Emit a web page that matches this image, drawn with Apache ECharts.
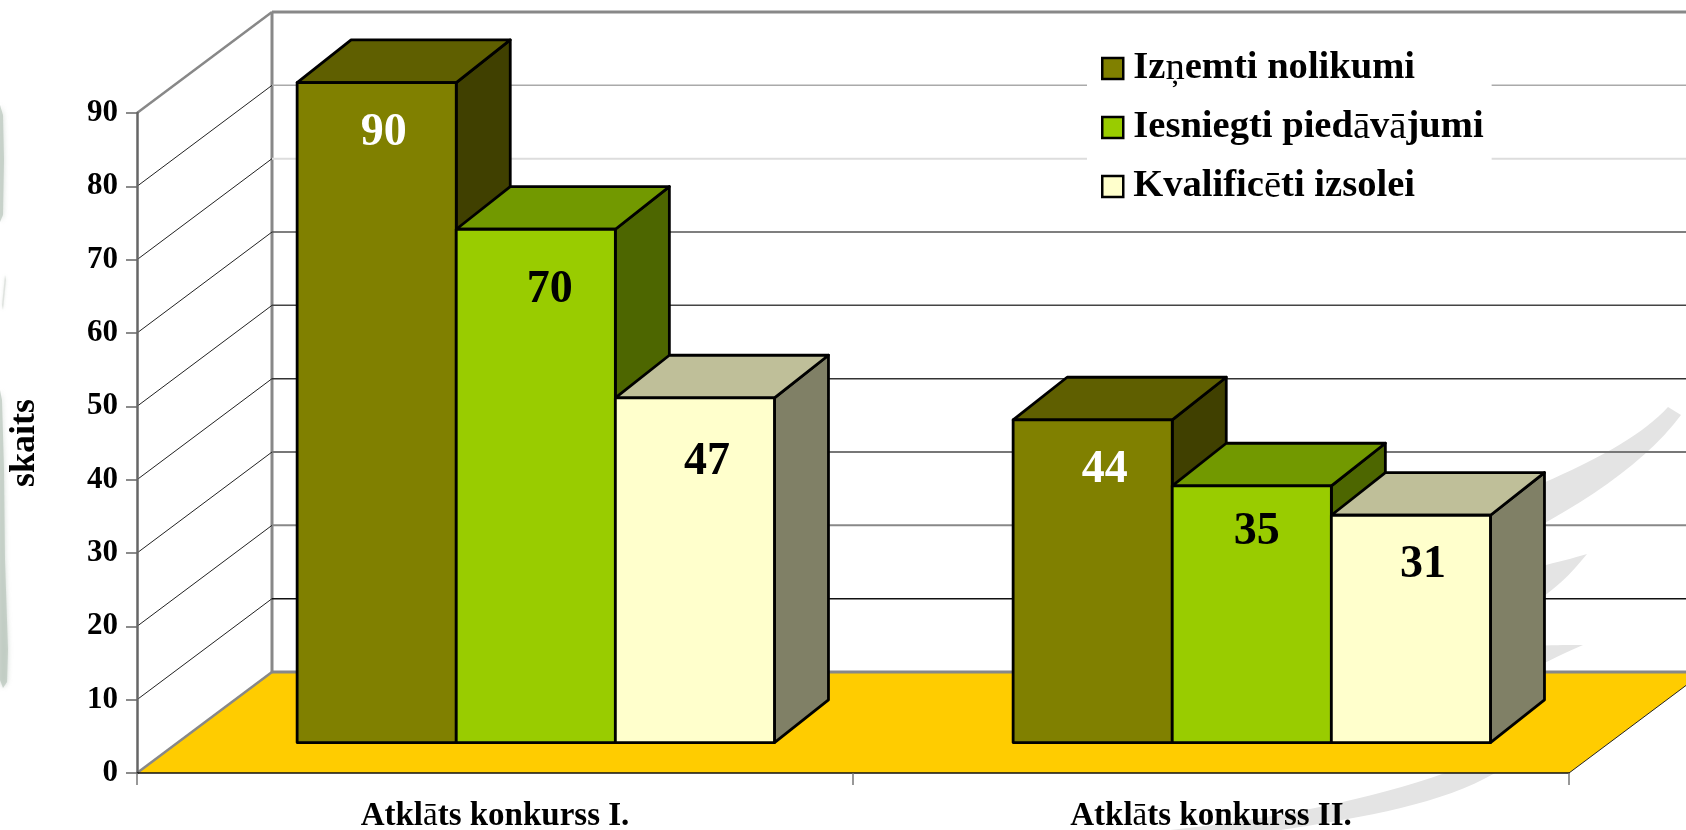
<!DOCTYPE html>
<html>
<head>
<meta charset="utf-8">
<style>html,body{margin:0;padding:0;background:#fff}#c{width:1686px;height:830px}</style>
<script src="https://cdn.jsdelivr.net/npm/echarts@6/dist/echarts.min.js"></script>
</head>
<body>
<div id="c"></div>
<script>
const categories = ['Atklāts konkurss I.', 'Atklāts konkurss II.'];
const seriesNames = ['Izņemti nolikumi', 'Iesniegti piedāvājumi', 'Kvalificēti izsolei'];
const izņemti = [90, 44];
const iesniegti = [70, 35];
const kvalificeti = [47, 31];
const yTicks = [0, 10, 20, 30, 40, 50, 60, 70, 80, 90];

// ---- styling only ----
const FONT = '"Liberation Serif", serif';
const AXIS_SIZE = 31, LABEL_SIZE = 46;
const faces = [
  { front: '#808000', top: '#5F5F00', side: '#404000', text: '#fff' },
  { front: '#99CC00', top: '#729900', side: '#4D6600', text: '#000' },
  { front: '#FFFFCC', top: '#BFBF99', side: '#808066', text: '#000' }
];
const labelNudge = [
  [[7, 51], [12, 50]],
  [[14, 61], [5, 46]],
  [[12, 64], [12, 50]]
];
const WALL = { dx: 135, dy: -101 };
const BAR_SHIFT = { dx: 40.8, dy: -30.4 };
const BAR_DEPTH = { dx: 54, dy: -42.7 };
const wallLine = {
  0: ['#888', 3], 10: ['#111', 1.5], 20: ['#888', 2], 30: ['#777', 2], 40: ['#333', 1.5],
  50: ['#444', 1.5], 60: ['#555', 1.5], 70: ['#ddd', 2], 80: ['#aaa', 1.5], 90: ['#888', 3]
};
const thinChars = /[āēņ]/g;
const rich = size => ({ r: { fontFamily: FONT, fontWeight: 'normal', fontSize: size, color: '#000' } });
const markThin = s => s.replace(thinChars, c => '{r|' + c + '}');

const swoosh = '#E4E4E4';
const blot = '#B9C6BC';
const decorPaths = [
  ['M1668 407 L1681 415 C1640 470 1560 520 1470 560 L1400 540 C1500 500 1620 460 1668 407 Z', swoosh, 0, 1],
  ['M1587 554 C1570 575 1555 590 1530 605 L1480 590 L1490 575 C1520 572 1560 562 1587 554 Z', swoosh, 0, 1],
  ['M1583 645 C1560 655 1540 665 1510 680 L1480 650 C1520 645 1560 645 1583 645 Z', swoosh, 0, 1],
  ['M1445 773 C1370 800 1260 822 1150 832 L1268 832 C1360 818 1440 805 1495 773 Z', swoosh, 0, 1],
  ['M0 105 L3 115 L4 160 L3 215 L0 222 Z', blot, 5, 0.7],
  ['M5 275 L6 280 L3 310 L2 305 Z', '#D5DCD6', 3, 0.7],
  ['M0 390 L2 400 L4 470 L5 560 L8 650 L7 682 L3 688 L0 680 Z', blot, 5, 0.7]
];

function renderDecor() {
  return {
    type: 'group',
    children: decorPaths.map(([pathData, fill, blur, opacity]) => ({
      type: 'path',
      shape: { pathData },
      style: { fill, shadowBlur: blur, shadowColor: fill, opacity }
    }))
  };
}

function renderWall(params, api) {
  const v = api.value(0);
  const band = api.size([1, 0])[0];
  const c = api.coord([0, v]);
  const p = [c[0] - band / 2, c[1]];
  const xEnd = p[0] + 2000;
  const [color, width] = wallLine[v];
  const backY = p[1] + WALL.dy, backX = p[0] + WALL.dx;
  const isEdge = v === 0 || v === 90;
  const span = band * categories.length;
  const children = [];
  if (v === 0) {
    children.push({
      type: 'polygon',
      shape: { points: [[p[0], p[1]], [p[0] + span, p[1]], [p[0] + span + WALL.dx, backY], [backX, backY]] },
      style: { fill: '#FFCC00' }
    });
    children.push({
      type: 'line',
      shape: { x1: p[0] + span, y1: p[1], x2: p[0] + span + WALL.dx, y2: backY },
      style: { stroke: '#222', lineWidth: 1 }
    });
    children.push({
      type: 'line',
      shape: { x1: backX, y1: backY, x2: backX, y2: api.coord([0, 90])[1] + WALL.dy },
      style: { stroke: '#888', lineWidth: 3 }
    });
  }
  children.push({
    type: 'line',
    shape: { x1: p[0], y1: p[1], x2: backX, y2: backY },
    style: { stroke: isEdge ? '#888' : '#222', lineWidth: isEdge ? 2.5 : 1 }
  });
  children.push({
    type: 'line',
    shape: { x1: backX, y1: backY, x2: xEnd, y2: backY },
    style: { stroke: color, lineWidth: width }
  });
  return { type: 'group', children };
}

function makeBarRenderer(j) {
  return function (params, api) {
    const i = api.value(0), v = api.value(1);
    const c = api.coord([i, v]);
    const base = api.coord([i, 0]);
    const w = api.size([1, 0])[0] / 4.5;
    const xl = c[0] - 1.5 * w + j * w + BAR_SHIFT.dx, xr = xl + w;
    const yt = c[1] + BAR_SHIFT.dy, yb = base[1] + BAR_SHIFT.dy;
    const f = faces[j];
    const edge = { stroke: '#000', lineWidth: 2.8, lineJoin: 'round' };
    const d = BAR_DEPTH;
    return {
      type: 'group',
      children: [
        { type: 'polygon', shape: { points: [[xr, yt], [xr + d.dx, yt + d.dy], [xr + d.dx, yb + d.dy], [xr, yb]] }, style: { fill: f.side, ...edge } },
        { type: 'polygon', shape: { points: [[xl, yt], [xl + d.dx, yt + d.dy], [xr + d.dx, yt + d.dy], [xr, yt]] }, style: { fill: f.top, ...edge } },
        { type: 'rect', shape: { x: xl, y: yt, width: w, height: yb - yt }, style: { fill: f.front, ...edge } },
        { type: 'text', x: xl + w / 2 + labelNudge[j][i][0], y: yt + labelNudge[j][i][1],
          style: { text: String(v), fill: f.text, font: 'bold ' + LABEL_SIZE + 'px ' + FONT, align: 'center', verticalAlign: 'middle' } }
      ]
    };
  };
}

const chart = echarts.init(document.getElementById('c'), null, { renderer: 'canvas' });
chart.setOption({
  animation: false,
  backgroundColor: '#fff',
  grid: { left: 137, right: 117, top: 113, bottom: 57, outerBoundsMode: 'none' },
  legend: {
    orient: 'vertical',
    left: 1087,
    top: 27,
    padding: [22, 8, 16, 14],
    backgroundColor: '#fff',
    itemWidth: 21,
    itemHeight: 21,
    itemGap: 20,
    data: seriesNames.map((name, j) => ({ name, icon: 'rect', itemStyle: { color: faces[j].front, borderColor: '#000', borderWidth: 2.5 } })),
    selectedMode: false,
    formatter: markThin,
    textStyle: { fontFamily: FONT, fontWeight: 'bold', fontSize: 38.6, color: '#000', rich: rich(38.6), lineHeight: 39, padding: [0, 0, 0, 5] }
  },
  xAxis: {
    type: 'category',
    data: categories,
    axisLine: { lineStyle: { color: '#111', width: 1.5 } },
    axisTick: { show: true, length: 12, lineStyle: { color: '#777', width: 1.5 } },
    axisLabel: { margin: 27, fontFamily: FONT, fontWeight: 'bold', fontSize: 33, color: '#000', rich: rich(33), formatter: markThin }
  },
  yAxis: {
    type: 'value',
    min: 0, max: 90, interval: 10,
    name: 'skaits',
    nameLocation: 'middle',
    nameGap: 94,
    nameRotate: 90,
    nameTextStyle: { fontFamily: FONT, fontWeight: 'bold', fontSize: 36, color: '#000' },
    splitLine: { show: false },
    axisLine: { show: true, lineStyle: { color: '#666', width: 2.5 } },
    axisTick: { show: true, length: 11, lineStyle: { color: '#666', width: 1.5 } },
    axisLabel: { margin: 19, padding: [4, 0, 0, 0], fontFamily: FONT, fontWeight: 'bold', fontSize: AXIS_SIZE, color: '#000' }
  },
  series: [
    { type: 'custom', name: 'decor', z: -3, silent: true, renderItem: renderDecor, data: [[0]], encode: { y: 0 } },
    { type: 'custom', name: 'walls', z: -1, silent: true, renderItem: renderWall, data: yTicks.map(v => [v]), encode: { y: 0 } },
    ...[izņemti, iesniegti, kvalificeti].map((vals, j) => ({
      type: 'custom',
      name: seriesNames[j],
      z: 2,
      itemStyle: { color: faces[j].front },
      renderItem: makeBarRenderer(j),
      encode: { x: 0, y: 1 },
      data: vals.map((v, i) => [i, v])
    }))
  ]
});
</script>
</body>
</html>
